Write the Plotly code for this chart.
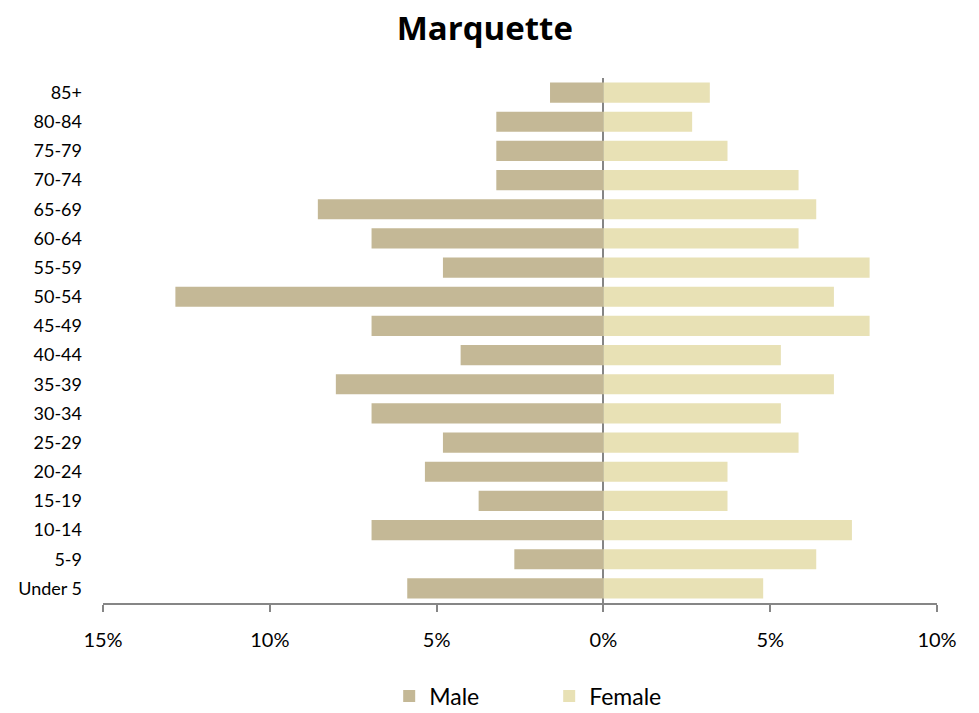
import plotly.graph_objects as go

age_groups = ["Under 5", "5-9", "10-14", "15-19", "20-24", "25-29", "30-34", "35-39",
              "40-44", "45-49", "50-54", "55-59", "60-64", "65-69", "70-74", "75-79",
              "80-84", "85+"]
male_pct = [5.88, 2.67, 6.95, 3.74, 5.35, 4.81, 6.95, 8.02,
            4.28, 6.95, 12.83, 4.81, 6.95, 8.56, 3.21, 3.21, 3.21, 1.60]
female_pct = [4.79, 6.38, 7.45, 3.72, 3.72, 5.85, 5.32, 6.91,
              5.32, 7.98, 6.91, 7.98, 5.85, 6.38, 5.85, 3.72, 2.66, 3.19]
tick_vals = [-15, -10, -5, 0, 5, 10]
tick_text = ["15%", "10%", "5%", "0%", "5%", "10%"]

FONT = "Lato"
male_color = "#c4b896"
female_color = "#e8e1b5"

fig = go.Figure()
fig.add_trace(go.Bar(
    y=age_groups, x=[-v for v in male_pct], name="Male", orientation="h",
    marker=dict(color=male_color, line=dict(width=0)),
    customdata=male_pct, hovertemplate="%{y}: %{customdata:.1f}%<extra>Male</extra>",
))
fig.add_trace(go.Bar(
    y=age_groups, x=female_pct, name="Female", orientation="h",
    marker=dict(color=female_color, line=dict(width=0)),
    hovertemplate="%{y}: %{x:.1f}%<extra>Female</extra>",
))

fig.update_layout(
    width=979, height=713,
    barmode="overlay", bargap=0.31,
    paper_bgcolor="white", plot_bgcolor="white",
    margin=dict(l=95, r=50, t=70, b=118, autoexpand=False),
    font=dict(family=FONT, size=18, color="#000000"),
    title=dict(text="<b>Marquette</b>", x=0.487, xanchor="center",
               yref="container", y=0.972, yanchor="middle",
               font=dict(family="Open Sans", size=33, color="#000000")),
    showlegend=True,
    legend=dict(orientation="h", x=0.535, xanchor="center",
                yref="container", y=0.035, yanchor="middle",
                font=dict(family=FONT, size=23), entrywidth=115, itemwidth=30,
                traceorder="normal"),
    xaxis=dict(range=[-15, 10], tickvals=tick_vals, ticktext=tick_text,
               showgrid=False, zeroline=True, zerolinecolor="#868686", zerolinewidth=2,
               showline=True, linecolor="#868686", linewidth=2,
               ticks="outside", ticklen=7, tickcolor="#868686", tickwidth=2,
               tickfont=dict(family=FONT, size=20), ticklabelstandoff=11,
               fixedrange=True),
    yaxis=dict(showgrid=False, zeroline=False, showline=False, ticks="",
               tickfont=dict(family=FONT, size=18), ticklabelstandoff=20,
               categoryorder="array", categoryarray=age_groups, fixedrange=True),
)

fig.write_html("out.html")
